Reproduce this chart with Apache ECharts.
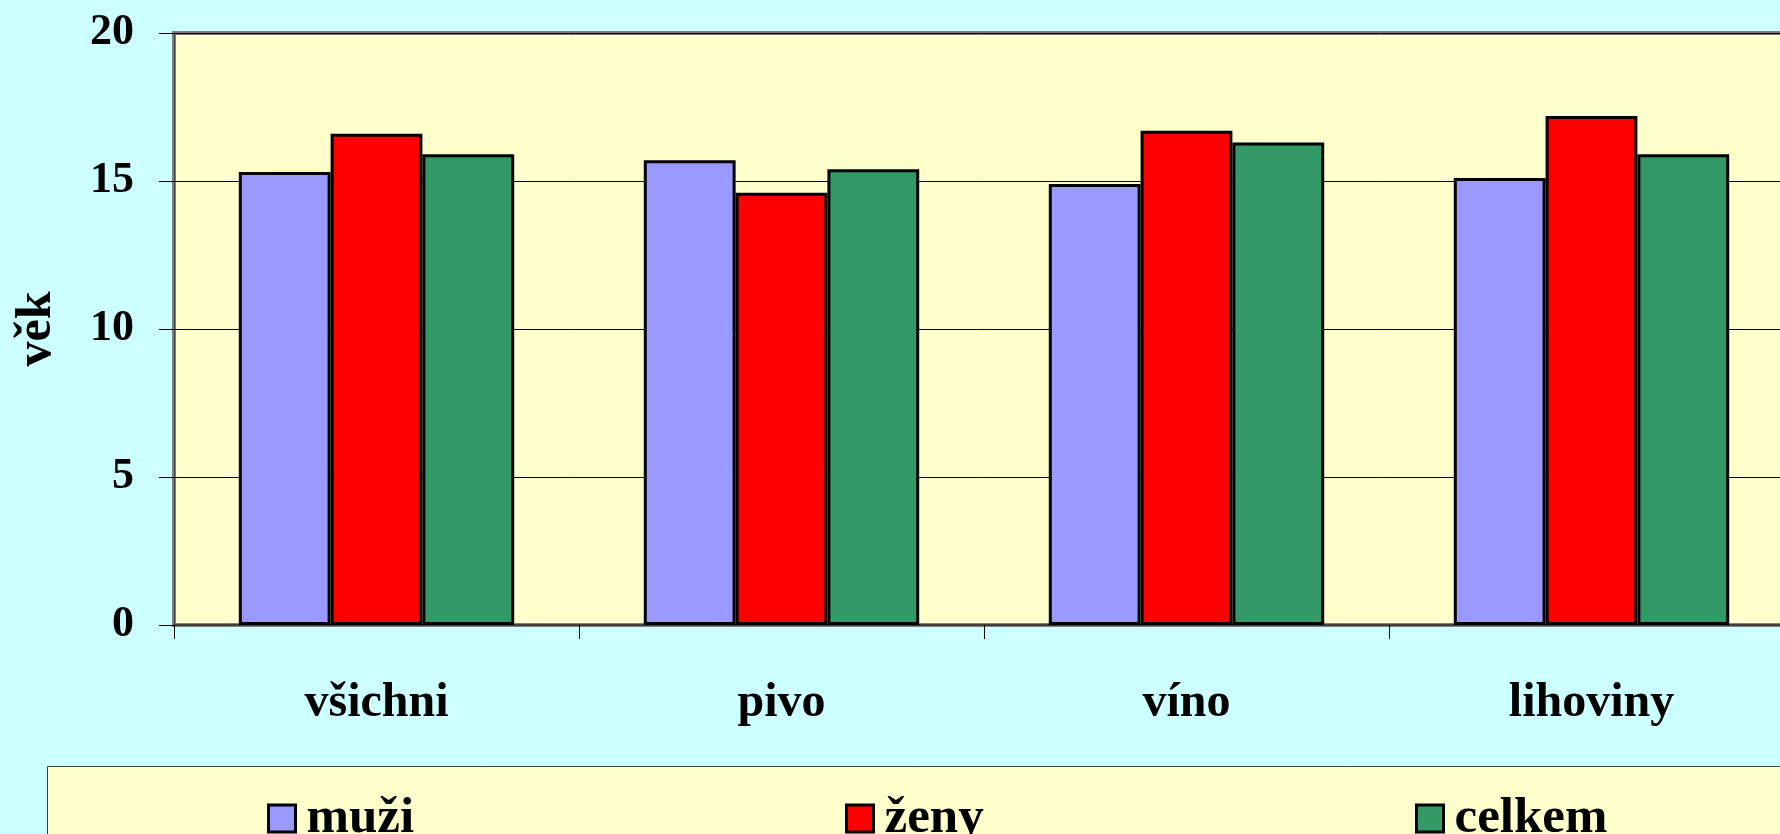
<!DOCTYPE html>
<html>
<head>
<meta charset="utf-8">
<script src="https://cdn.jsdelivr.net/npm/echarts@6/dist/echarts.min.js"></script>
<style>
  html, body { margin: 0; padding: 0; background: #ccffff; }
  #chart { width: 1780px; height: 834px; }
</style>
</head>
<body>
<div id="chart"></div>
<script>
// data
var categories = ['všichni', 'pivo', 'víno', 'lihoviny'];
var muzi = [15.3, 15.7, 14.9, 15.1];
var zeny = [16.6, 14.6, 16.7, 17.2];
var celkem = [15.9, 15.4, 16.3, 15.9];
var yTicks = [0, 5, 10, 15, 20];

var font = '"Liberation Serif", "Times New Roman", serif';
var chart = echarts.init(document.getElementById('chart'));

function barSeries(name, data, color) {
    return {
        name: name,
        type: 'bar',
        data: data,
        barGap: '0%',
        barCategoryGap: '32%',
        itemStyle: { color: color, borderColor: '#000', borderWidth: 3 }
    };
}

function legendAt(name, left) {
    return {
        data: [name],
        left: left,
        top: 788,
        icon: 'rect',
        itemWidth: 27,
        itemHeight: 27,
        itemStyle: { borderColor: '#000', borderWidth: 3 },
        textStyle: { fontFamily: font, fontWeight: 'bold', fontSize: 51, color: '#000', padding: [0, 0, 0, 6] }
    };
}

var option = {
    backgroundColor: '#ccffff',
    animation: false,
    // legend box
    graphic: [{
        type: 'rect',
        z: -1,
        shape: { x: 47.5, y: 766.5, width: 1800, height: 100 },
        style: { fill: '#ffffcc', stroke: '#404040', lineWidth: 1 }
    }],
    legend: [
        legendAt('muži', 262),
        legendAt('ženy', 840),
        legendAt('celkem', 1410)
    ],
    grid: {
        left: 174,
        top: 33,
        width: 1620,
        height: 592,
        outerBoundsMode: 'none',
        containLabel: false,
        show: true,
        backgroundColor: '#ffffcc',
        borderColor: '#808080',
        borderWidth: 4
    },
    xAxis: {
        type: 'category',
        data: categories,
        axisLine: { lineStyle: { color: '#404040', width: 2 } },
        axisTick: { show: true, length: 14, lineStyle: { color: '#000', width: 1 } },
        axisLabel: {
            margin: 55,
            fontFamily: font, fontWeight: 'bold', fontSize: 48, color: '#000'
        }
    },
    yAxis: {
        type: 'value',
        min: yTicks[0],
        max: yTicks[yTicks.length - 1],
        interval: 5,
        name: 'věk',
        nameLocation: 'middle',
        nameRotate: 90,
        nameGap: 112,
        nameTextStyle: { fontFamily: font, fontWeight: 'bold', fontSize: 50, color: '#000' },
        axisLine: { show: true, lineStyle: { color: '#404040', width: 1 } },
        axisTick: { show: true, length: 15, lineStyle: { color: '#000', width: 1 } },
        axisLabel: {
            margin: 40,
            fontFamily: font, fontWeight: 'bold', fontSize: 44, color: '#000'
        },
        splitLine: { show: true, lineStyle: { color: '#000', width: 1 } }
    },
    series: [
        barSeries('muži', muzi, '#9999ff'),
        barSeries('ženy', zeny, '#ff0000'),
        barSeries('celkem', celkem, '#339966')
    ]
};

chart.setOption(option);
window.onresize = chart.resize;
</script>
</body>
</html>
